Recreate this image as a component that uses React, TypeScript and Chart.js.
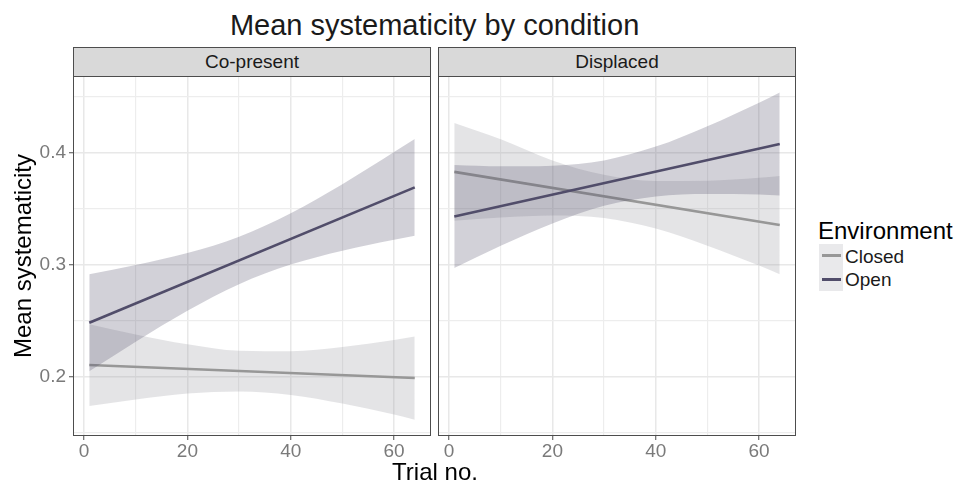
import React, { useEffect, useRef } from 'react';
import { Chart, registerables } from 'chart.js';

Chart.register(...registerables);

// ---------- data ----------
const trialX = [1, 10, 20, 30, 40, 50, 60, 64];
const lineX = [1, 64];

// Co-present panel
const coOpenLine = [0.248, 0.369];
const coOpenUpper = [0.2913, 0.2996, 0.3103, 0.3249, 0.3458, 0.3718, 0.4005, 0.4123];
const coOpenLower = [0.2047, 0.2311, 0.2587, 0.2825, 0.3, 0.3124, 0.3221, 0.3257];
const coClosedLine = [0.2102, 0.1986];
const coClosedUpper = [0.2467, 0.2376, 0.2288, 0.223, 0.2226, 0.2264, 0.2326, 0.2358];
const coClosedLower = [0.1737, 0.1794, 0.1847, 0.1866, 0.1835, 0.1758, 0.166, 0.1614];

// Displaced panel
const dpOpenLine = [0.343, 0.4078];
const dpOpenUpper = [0.389, 0.3878, 0.3884, 0.3931, 0.4054, 0.4237, 0.4447, 0.4538];
const dpOpenLower = [0.297, 0.3168, 0.3368, 0.3525, 0.3608, 0.3631, 0.3627, 0.3618];
const dpClosedLine = [0.3828, 0.3353];
const dpClosedUpper = [0.4265, 0.412, 0.3931, 0.3802, 0.3746, 0.3749, 0.3776, 0.3792];
const dpClosedLower = [0.3391, 0.3421, 0.3439, 0.3417, 0.3322, 0.3169, 0.2991, 0.2914];

const panelNames = ['Co-present', 'Displaced'];
const legendTitle = 'Environment';
const legendLabels = ['Closed', 'Open'];

const xTicks = [0, 10, 20, 30, 40, 50, 60];
const xMajor = [0, 20, 40, 60];
const yTicks = [0.15, 0.2, 0.25, 0.3, 0.35, 0.4, 0.45];
const yMajor = [0.2, 0.3, 0.4];

const X_MIN = -2.15;
const X_MAX = 67.15;
const Y_MIN = 0.1468;
const Y_MAX = 0.4685;

// ---------- styles ----------
const FONT = '"Liberation Sans", Arial, Helvetica, sans-serif';
const OPEN = '#514d6a';
const OPEN_FILL = 'rgba(81,77,106,0.26)';
const CLOSED = '#979797';
const CLOSED_FILL = 'rgba(150,152,158,0.26)';
const GRID_MAJOR = '#e8e8e8';
const GRID_MINOR = '#ededed';
const AXIS = '#4d4d4d';
const TICK_TEXT = '#7a7a7a';
const CLEAR = 'rgba(0,0,0,0)';

const pts = (xs: number[], ys: number[]) => xs.map((x, i) => ({ x, y: ys[i] }));

function makeDatasets(
  oLine: number[], oUp: number[], oLo: number[],
  cLine: number[], cUp: number[], cLo: number[]
) {
  const band = {
    borderColor: CLEAR,
    borderWidth: 0,
    pointRadius: 0,
    cubicInterpolationMode: 'monotone' as const,
  };
  return [
    { label: 'Open', data: pts(lineX, oLine), borderColor: OPEN, borderWidth: 2.6, pointRadius: 0, fill: false, order: 0 },
    { label: 'Open upper', data: pts(trialX, oUp), ...band, fill: '+1', backgroundColor: OPEN_FILL, order: 1 },
    { label: 'Open lower', data: pts(trialX, oLo), ...band, fill: false, order: 1 },
    { label: 'Closed', data: pts(lineX, cLine), borderColor: CLOSED, borderWidth: 2.6, pointRadius: 0, fill: false, order: 2 },
    { label: 'Closed upper', data: pts(trialX, cUp), ...band, fill: '+1', backgroundColor: CLOSED_FILL, order: 3 },
    { label: 'Closed lower', data: pts(trialX, cLo), ...band, fill: false, order: 3 },
  ];
}

const borderPlugin = {
  id: 'panelBorder',
  afterDraw(chart: any) {
    const { ctx, chartArea: a } = chart;
    ctx.save();
    ctx.strokeStyle = AXIS;
    ctx.lineWidth = 1;
    ctx.strokeRect(a.left + 0.5, a.top + 0.5, a.right - a.left - 1, a.bottom - a.top - 1);
    ctx.restore();
  },
};

type PanelProps = {
  left: number;
  top: number;
  width: number;
  height: number;
  yWidth: number;
  padTop: number;
  padRight: number;
  showY: boolean;
  datasets: any[];
};

// plot area: page y 76 .. 436 (360 px tall)
const AREA_H = 360;

function Panel(p: PanelProps) {
  const ref = useRef<HTMLCanvasElement | null>(null);
  useEffect(() => {
    if (!ref.current) return;
    const tickFont = { family: FONT, size: 19 };
    const chart = new Chart(ref.current, {
      type: 'line',
      data: { datasets: p.datasets },
      options: {
        responsive: false,
        animation: false,
        events: [],
        layout: { padding: { top: p.padTop, right: p.padRight, left: 0, bottom: 0 } },
        plugins: {
          legend: { display: false },
          tooltip: { enabled: false },
          title: { display: false },
        },
        scales: {
          x: {
            type: 'linear',
            position: 'bottom',
            min: X_MIN,
            max: X_MAX,
            afterBuildTicks: (s: any) => { s.ticks = xTicks.map((v) => ({ value: v })); },
            afterFit: (s: any) => { s.height = p.height - p.padTop - AREA_H; },
            ticks: {
              autoSkip: false,
              maxRotation: 0,
              padding: 0,
              color: TICK_TEXT,
              font: tickFont,
              callback: (v: any) => (xMajor.includes(v) ? String(v) : ''),
            },
            grid: {
              color: (c: any) => (xMajor.includes(c.tick?.value) ? GRID_MAJOR : GRID_MINOR),
              lineWidth: (c: any) => (xMajor.includes(c.tick?.value) ? 1.5 : 1.2),
              drawTicks: true,
              tickLength: 4,
              tickWidth: 1,
              tickColor: (c: any) => (xMajor.includes(c.tick?.value) ? AXIS : CLEAR),
            },
            border: { display: false },
          },
          y: {
            type: 'linear',
            position: 'left',
            min: Y_MIN,
            max: Y_MAX,
            afterBuildTicks: (s: any) => { s.ticks = yTicks.map((v) => ({ value: v })); },
            afterFit: (s: any) => { s.width = p.yWidth; },
            ticks: {
              display: p.showY,
              autoSkip: false,
              padding: 3,
              color: TICK_TEXT,
              font: tickFont,
              callback: (v: any) => (yMajor.includes(v) ? Number(v).toFixed(1) : ''),
            },
            grid: {
              color: (c: any) => (yMajor.includes(c.tick?.value) ? GRID_MAJOR : GRID_MINOR),
              lineWidth: (c: any) => (yMajor.includes(c.tick?.value) ? 1.5 : 1.2),
              drawTicks: p.showY,
              tickLength: 4,
              tickWidth: 1,
              tickColor: (c: any) => (yMajor.includes(c.tick?.value) ? AXIS : CLEAR),
            },
            border: { display: false },
          },
        },
      } as any,
      plugins: [borderPlugin],
    });
    return () => chart.destroy();
  }, []);
  return (
    <canvas
      ref={ref}
      width={p.width}
      height={p.height}
      style={{ position: 'absolute', left: p.left, top: p.top, width: p.width, height: p.height }}
    />
  );
}

const textBase: React.CSSProperties = {
  position: 'absolute',
  fontFamily: FONT,
  whiteSpace: 'nowrap',
  margin: 0,
};

export default function App() {
  const coSets = makeDatasets(coOpenLine, coOpenUpper, coOpenLower, coClosedLine, coClosedUpper, coClosedLower);
  const dpSets = makeDatasets(dpOpenLine, dpOpenUpper, dpOpenLower, dpClosedLine, dpClosedUpper, dpClosedLower);

  const strip = (left: number, label: string) => (
    <div
      style={{
        ...textBase,
        left,
        top: 47,
        width: 358,
        height: 30,
        boxSizing: 'border-box',
        border: `1px solid ${AXIS}`,
        background: '#d9d9d9',
        color: '#1a1a1a',
        fontSize: 19,
        lineHeight: '28px',
        textAlign: 'center',
      }}
    >
      {label}
    </div>
  );

  const canvasTop = 56;
  const padTop = 76 - canvasTop;
  const canvasH = 470 - canvasTop;

  return (
    <div
      style={{
        position: 'fixed',
        left: 0,
        top: 0,
        width: 957,
        height: 485,
        background: '#ffffff',
        overflow: 'hidden',
      }}
    >
      {/* Title */}
      <div
        style={{
          ...textBase,
          left: 434.6 - 300,
          width: 600,
          top: 10.5,
          fontSize: 29,
          lineHeight: '29px',
          textAlign: 'center',
          color: '#1a1a1a',
        }}
      >
        Mean systematicity by condition
      </div>

      <Panel left={0} top={canvasTop} width={440} height={canvasH} yWidth={73} padTop={padTop} padRight={9} showY={true} datasets={coSets} />
      <Panel left={430} top={canvasTop} width={380} height={canvasH} yWidth={8} padTop={padTop} padRight={14} showY={false} datasets={dpSets} />

      {strip(73, panelNames[0])}
      {strip(438, panelNames[1])}

      {/* Y axis title */}
      <div
        style={{
          ...textBase,
          left: 22.5 - 200,
          top: 256 - 12,
          width: 400,
          height: 24,
          fontSize: 24,
          lineHeight: '24px',
          textAlign: 'center',
          color: '#000',
          transform: 'rotate(-90deg)',
          transformOrigin: '50% 50%',
        }}
      >
        Mean systematicity
      </div>

      {/* X axis title */}
      <div
        style={{
          ...textBase,
          left: 435 - 150,
          width: 300,
          top: 460.2,
          fontSize: 24,
          lineHeight: '24px',
          textAlign: 'center',
          color: '#000',
        }}
      >
        Trial no.
      </div>

      {/* Legend */}
      <div style={{ ...textBase, left: 818, top: 219, fontSize: 24, lineHeight: '24px', color: '#000' }}>
        {legendTitle}
      </div>
      {legendLabels.map((lab, i) => (
        <React.Fragment key={lab}>
          <div
            style={{
              position: 'absolute',
              left: 819,
              top: 244 + i * 23.5,
              width: 24,
              height: 23.5,
              background: '#e9e9eb',
            }}
          />
          <div
            style={{
              position: 'absolute',
              left: 822,
              top: 244 + i * 23.5 + 11.75 - 1.3,
              width: 19,
              height: 2.6,
              background: i === 0 ? CLOSED : OPEN,
            }}
          />
          <div
            style={{
              ...textBase,
              left: 845,
              top: 247.2 + i * 22.7,
              fontSize: 19,
              lineHeight: '19px',
              color: '#1a1a1a',
            }}
          >
            {lab}
          </div>
        </React.Fragment>
      ))}
    </div>
  );
}
